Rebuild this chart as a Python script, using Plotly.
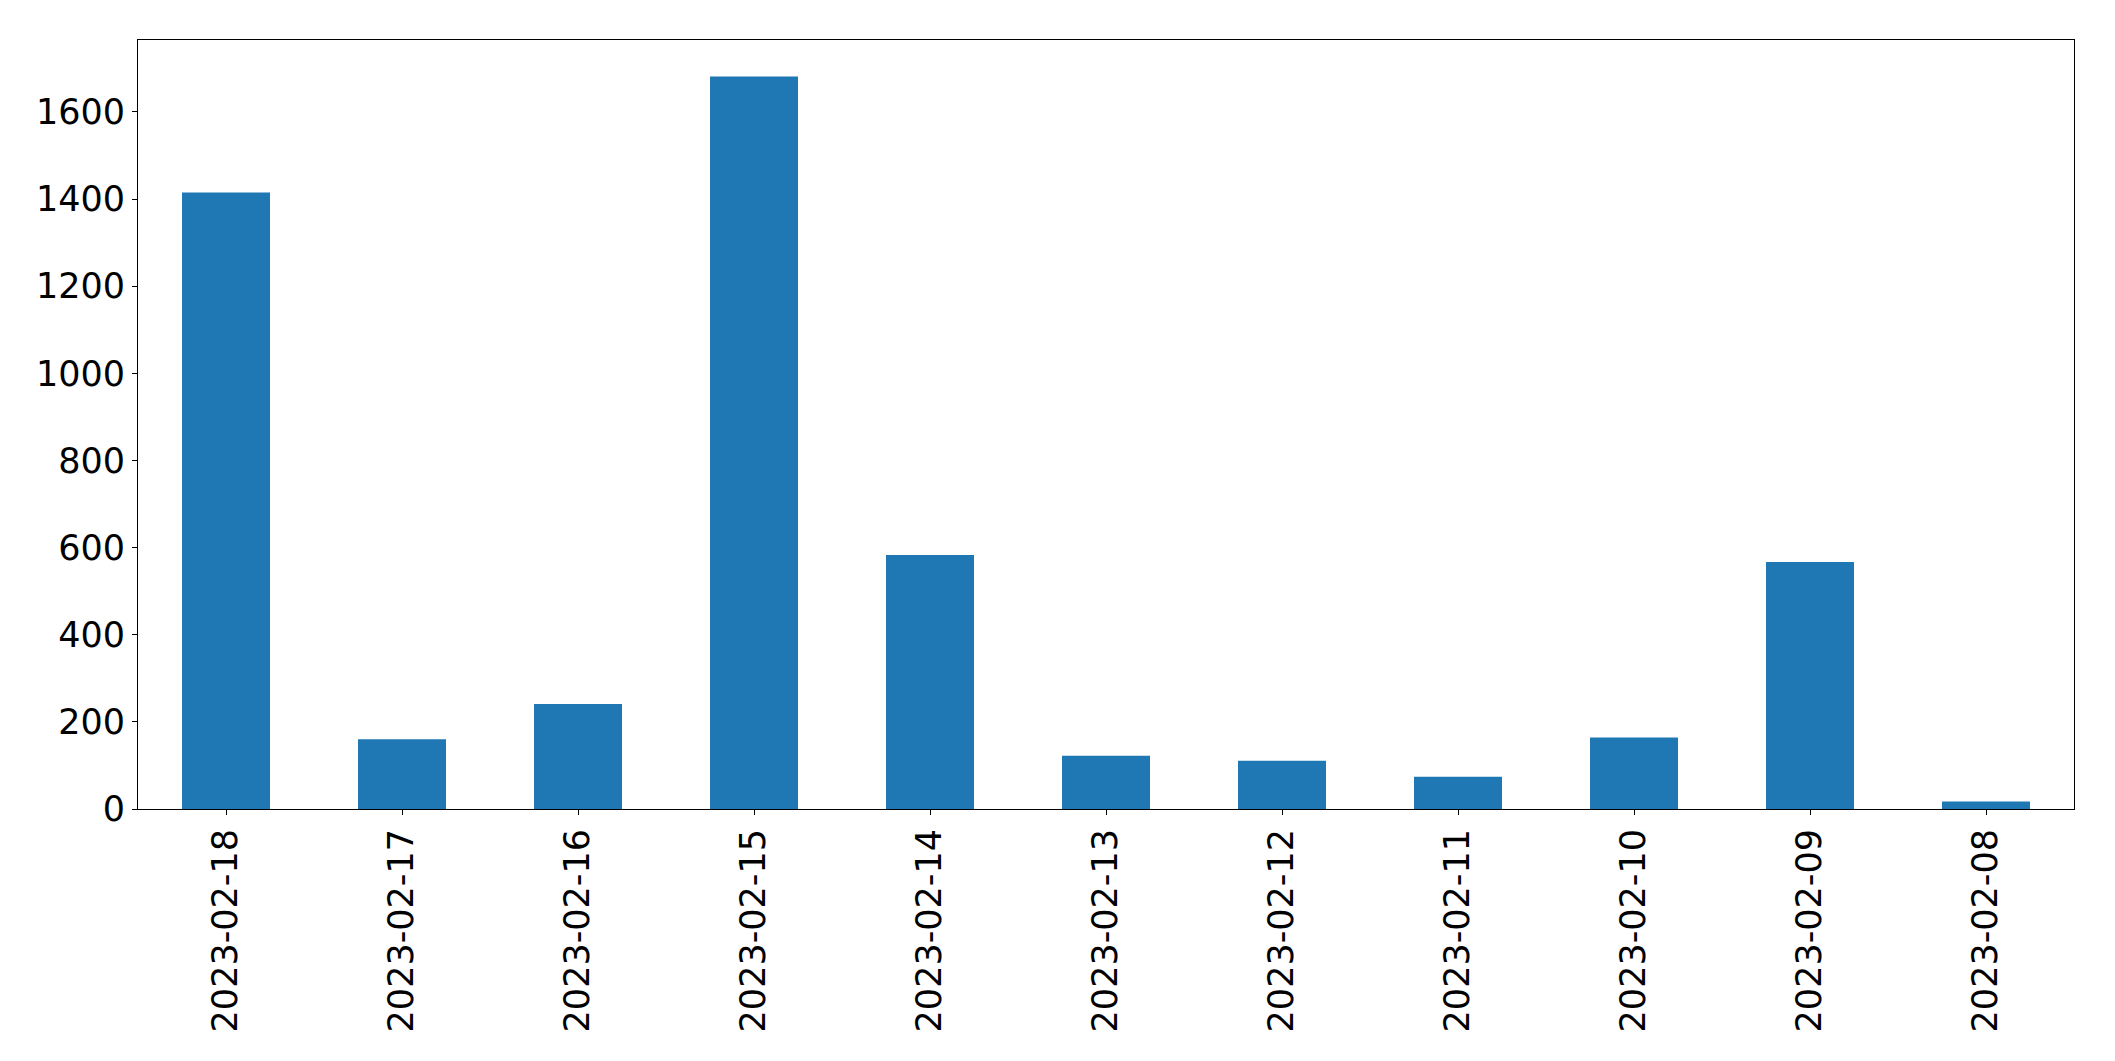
import plotly.graph_objects as go

dates = ["2023-02-18", "2023-02-17", "2023-02-16", "2023-02-15", "2023-02-14", "2023-02-13",
         "2023-02-12", "2023-02-11", "2023-02-10", "2023-02-09", "2023-02-08"]
counts = [1415, 160, 241, 1681, 583, 122, 111, 74, 164, 567, 17]
y_ticks = [0, 200, 400, 600, 800, 1000, 1200, 1400, 1600]

fig = go.Figure()
fig.add_trace(go.Bar(x=list(range(len(dates))), y=counts, width=0.5,
                     marker=dict(color="#1f77b4", line=dict(width=0))))

font = dict(family="DejaVu Sans", size=35, color="black")
fig.update_layout(
    width=2115, height=1061,
    margin=dict(l=130, r=49, t=32, b=260),
    paper_bgcolor="white", plot_bgcolor="white",
    showlegend=False, font=font,
)
fig.update_xaxes(
    range=[-0.5, len(dates) - 0.5],
    tickmode="array", tickvals=list(range(len(dates))), ticktext=dates,
    tickangle=-90, ticks="outside", ticklen=5, tickwidth=1, tickcolor="black",
    showline=True, linecolor="black", linewidth=1, mirror=True,
    showgrid=False, zeroline=False, tickfont=font,
)
fig.update_yaxes(
    range=[0, 1765],
    tickmode="array", tickvals=y_ticks, ticktext=[str(v) for v in y_ticks],
    ticks="outside", ticklen=5, tickwidth=1, tickcolor="black",
    showline=True, linecolor="black", linewidth=1, mirror=True,
    showgrid=False, zeroline=False, tickfont=font,
)
fig.write_html("out.html")
